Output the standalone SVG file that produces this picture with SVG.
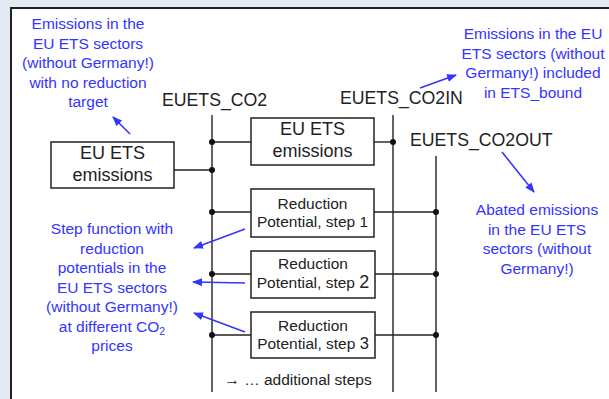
<svg xmlns="http://www.w3.org/2000/svg" width="609" height="399" viewBox="0 0 609 399">
<defs>
<style>
.bx{fill:#fff;stroke:#222;stroke-width:1.5}
.ln{stroke:#222;stroke-width:1.4;fill:none}
.dot{fill:#111}
.bl{fill:#3434ff;font-family:"Liberation Sans",Arial,sans-serif;font-size:15.5px;text-anchor:middle}
.lab{fill:#222;font-family:"Liberation Sans",Arial,sans-serif;font-size:17.7px}
.bt{fill:#222;font-family:"Liberation Sans",Arial,sans-serif;font-size:18px;text-anchor:middle}
.rt{fill:#222;font-family:"Liberation Sans",Arial,sans-serif;font-size:15.5px;text-anchor:middle}
.ar{stroke:#3434ff;stroke-width:1.6;fill:none;marker-end:url(#ah)}
</style>
<marker id="ah" markerUnits="userSpaceOnUse" markerWidth="10" markerHeight="8" refX="9" refY="4" orient="auto">
<path d="M0,0 L10,4 L0,8 z" fill="#3434ff"/>
</marker>
</defs>
<rect x="0" y="0" width="609" height="399" fill="#e4eaf4"/>
<rect x="11" y="8" width="620" height="420" fill="#fff" stroke="#222" stroke-width="2"/>

<g id="connectors">
<line class="ln" x1="212" y1="115" x2="212" y2="392"/>
<line class="ln" x1="393" y1="115" x2="393" y2="392"/>
<line class="ln" x1="436" y1="156" x2="436" y2="392"/>
<line class="ln" x1="212" y1="142" x2="251" y2="142"/>
<line class="ln" x1="374" y1="142" x2="393" y2="142"/>
<line class="ln" x1="174" y1="170" x2="212" y2="170"/>
<line class="ln" x1="212" y1="212" x2="251" y2="212"/>
<line class="ln" x1="374" y1="212" x2="436" y2="212"/>
<line class="ln" x1="212" y1="274" x2="251" y2="274"/>
<line class="ln" x1="375" y1="274" x2="436" y2="274"/>
<line class="ln" x1="212" y1="335" x2="251" y2="335"/>
<line class="ln" x1="375" y1="335" x2="436" y2="335"/>
<circle class="dot" cx="212" cy="142" r="3"/>
<circle class="dot" cx="212" cy="170" r="3"/>
<circle class="dot" cx="212" cy="212" r="3"/>
<circle class="dot" cx="212" cy="274" r="3"/>
<circle class="dot" cx="212" cy="335" r="3"/>
<circle class="dot" cx="393" cy="142" r="3"/>
<circle class="dot" cx="436" cy="212" r="3"/>
<circle class="dot" cx="436" cy="274" r="3"/>
<circle class="dot" cx="436" cy="335" r="3"/>
<line class="ar" x1="130" y1="134" x2="113" y2="117"/>
<line class="ar" x1="420" y1="88" x2="456" y2="75"/>
<line class="ar" x1="502" y1="152" x2="534" y2="192"/>
<line class="ar" x1="245" y1="229" x2="194" y2="248"/>
<line class="ar" x1="245" y1="283" x2="193" y2="282"/>
<line class="ar" x1="245" y1="332" x2="194" y2="313"/>
</g>

<g id="labels">
<text class="lab" x="162" y="106">EUETS_CO2</text>
<text class="lab" x="340" y="104">EUETS_CO2IN</text>
<text class="lab" x="410" y="146">EUETS_CO2OUT</text>
<text class="rt" x="298" y="385">→ … additional steps</text>
</g>

<g id="note-top-left">
<text class="bl" x="88" y="29">Emissions in the</text>
<text class="bl" x="88" y="48.5">EU ETS sectors</text>
<text class="bl" x="88" y="68">(without Germany!)</text>
<text class="bl" x="88" y="87.5">with no reduction</text>
<text class="bl" x="88" y="107">target</text>
</g>

<g id="note-top-right">
<text class="bl" x="533" y="39">Emissions in the EU</text>
<text class="bl" x="533" y="58.5">ETS sectors (without</text>
<text class="bl" x="533" y="78">Germany!) included</text>
<text class="bl" x="533" y="97.5">in ETS_bound</text>
</g>

<g id="note-right">
<text class="bl" x="537" y="215">Abated emissions</text>
<text class="bl" x="537" y="234.5">in the EU ETS</text>
<text class="bl" x="537" y="254">sectors (without</text>
<text class="bl" x="537" y="273.5">Germany!)</text>
</g>

<g id="note-left">
<text class="bl" x="112" y="234">Step function with</text>
<text class="bl" x="112" y="253.5">reduction</text>
<text class="bl" x="112" y="273">potentials in the</text>
<text class="bl" x="112" y="292.5">EU ETS sectors</text>
<text class="bl" x="112" y="312">(without Germany!)</text>
<text class="bl" x="112" y="331.5">at different CO<tspan font-size="10.5" dy="3">2</tspan></text>
<text class="bl" x="112" y="351">prices</text>
</g>

<g id="node-euets-left">
<rect class="bx" x="51" y="142" width="123" height="46"/>
<text class="bt" x="112.5" y="159">EU ETS</text>
<text class="bt" x="112.5" y="181">emissions</text>
</g>

<g id="node-euets-mid">
<rect class="bx" x="251" y="118" width="123" height="47"/>
<text class="bt" x="312.5" y="135">EU ETS</text>
<text class="bt" x="312.5" y="157">emissions</text>
</g>

<g id="node-step1">
<rect class="bx" x="251" y="189" width="123" height="48"/>
<text class="rt" x="312.5" y="209">Reduction</text>
<text class="rt" x="312.5" y="227">Potential, step 1</text>
</g>

<g id="node-step2">
<rect class="bx" x="251" y="251" width="124" height="47"/>
<text class="rt" x="313" y="269">Reduction</text>
<text class="rt" x="313" y="288">Potential, step <tspan font-size="18">2</tspan></text>
</g>

<g id="node-step3">
<rect class="bx" x="251" y="312" width="124" height="46"/>
<text class="rt" x="313" y="331">Reduction</text>
<text class="rt" x="313" y="349">Potential, step <tspan font-size="16.5">3</tspan></text>
</g>
</svg>
